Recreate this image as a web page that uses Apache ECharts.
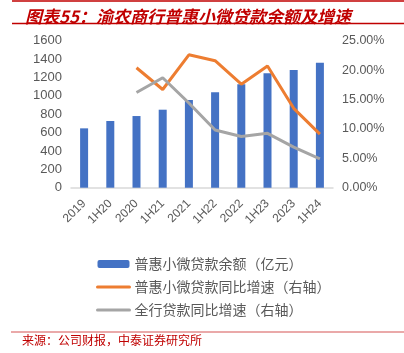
<!DOCTYPE html>
<html>
<head>
<meta charset="utf-8">
<script src="https://cdn.jsdelivr.net/npm/echarts@6/dist/echarts.min.js"></script>
<style>
html, body { margin: 0; padding: 0; background: #fff; }
#main { width: 404px; height: 353px; }
</style>
</head>
<body>
<div id="main"></div>
<script>
var categories = ['2019', '1H20', '2020', '1H21', '2021', '1H22', '2022', '1H23', '2023', '1H24'];
var loanBalance = [646, 726, 780, 849, 955, 1038, 1125, 1245, 1281, 1361];
var microGrowth = ['-', '-', 0.204, 0.167, 0.226, 0.216, 0.176, 0.207, 0.135, 0.091];
var totalGrowth = ['-', '-', 0.162, 0.187, 0.144, 0.098, 0.087, 0.0925, 0.069, 0.049];

var red = '#c00000';
var myChart = echarts.init(document.getElementById('main'));

option = {
    animation: false,
    title: {
        text: '图表55：渝农商行普惠小微贷款余额及增速',
        left: 20,
        top: 3,
        textStyle: {
            color: red,
            fontSize: 17,
            fontStyle: 'italic',
            fontWeight: 'bold',
            fontFamily: 'Noto Sans CJK SC'
        }
    },
    graphic: [
        { type: 'line', shape: { x1: 12, y1: 1, x2: 404, y2: 1 }, style: { stroke: red, lineWidth: 1.5 } },
        { type: 'line', shape: { x1: 12, y1: 23.5, x2: 404, y2: 23.5 }, style: { stroke: red, lineWidth: 1.5 } },
        { type: 'line', shape: { x1: 11, y1: 332, x2: 404, y2: 332 }, style: { stroke: '#e38d8d', lineWidth: 1.5 } },
        {
            type: 'text', left: 22, top: 334,
            style: { text: '来源：公司财报，中泰证券研究所', fill: red, fontSize: 12, fontFamily: 'Noto Sans CJK SC' }
        }
    ],
    grid: {
        left: 71,
        right: 71,
        top: 40.7,
        height: 147
    },
    legend: {
        orient: 'vertical',
        left: 91,
        top: 252,
        itemWidth: 32,
        itemHeight: 8,
        itemGap: 9,
        textStyle: { color: '#595959', fontSize: 14, fontFamily: 'Noto Sans CJK SC' },
        data: [
            { name: '普惠小微贷款余额（亿元）' },
            { name: '普惠小微贷款同比增速（右轴）', itemStyle: { opacity: 0 }, lineStyle: { width: 3, cap: 'round' } },
            { name: '全行贷款同比增速（右轴）', itemStyle: { opacity: 0 }, lineStyle: { width: 3, cap: 'round' } }
        ]
    },
    xAxis: {
        type: 'category',
        data: categories,
        axisLine: { lineStyle: { color: '#d9d9d9', width: 1.5 } },
        axisTick: { show: false },
        axisLabel: { color: '#595959', fontSize: 12, rotate: 45, interval: 0, margin: 14 }
    },
    yAxis: [{
        type: 'value',
        min: 0,
        max: 1600,
        interval: 200,
        splitLine: { show: false },
        axisLine: { show: false },
        axisTick: { show: false },
        axisLabel: {
            color: '#595959', fontSize: 13, margin: 9,
            formatter: function (v) { return String(v); }
        }
    }, {
        type: 'value',
        min: 0,
        max: 0.25,
        interval: 0.05,
        splitLine: { show: false },
        axisLine: { show: false },
        axisTick: { show: false },
        axisLabel: {
            color: '#595959', fontSize: 12.5, margin: 9,
            formatter: function (v) { return (v * 100).toFixed(2) + '%'; }
        }
    }],
    series: [{
        name: '普惠小微贷款余额（亿元）',
        type: 'bar',
        barWidth: 8,
        itemStyle: { color: '#4472c4' },
        data: loanBalance
    }, {
        name: '普惠小微贷款同比增速（右轴）',
        type: 'line',
        yAxisIndex: 1,
        symbol: 'none',
        lineStyle: { color: '#ed7d31', width: 3 },
        itemStyle: { color: '#ed7d31' },
        data: microGrowth
    }, {
        name: '全行贷款同比增速（右轴）',
        type: 'line',
        yAxisIndex: 1,
        symbol: 'none',
        lineStyle: { color: '#a5a5a5', width: 3 },
        itemStyle: { color: '#a5a5a5' },
        data: totalGrowth
    }]
};
myChart.setOption(option);
</script>
</body>
</html>
